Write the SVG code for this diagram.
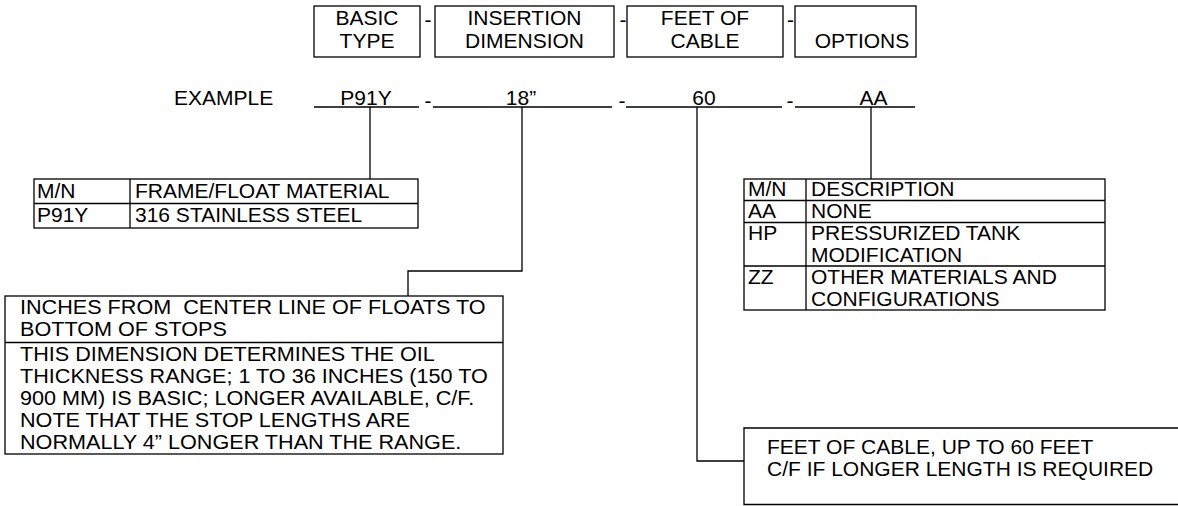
<svg xmlns="http://www.w3.org/2000/svg" width="1178" height="506" viewBox="0 0 1178 506">
<style>
text{font-family:"Liberation Sans",Arial,sans-serif;font-size:21px;fill:#000}
.m{text-anchor:middle}
.b{fill:none;stroke:#000;stroke-width:1.3}
.l{stroke:#000;stroke-width:1.3;fill:none}
</style>
<rect width="1178" height="506" fill="#fff"/>
<g id="header-basic-type">
<rect class="b" x="314" y="6" width="106" height="51"/>
<text class="m" x="367" y="25">BASIC</text>
<text class="m" x="367" y="48">TYPE</text>
</g>
<text class="m" x="428" y="27">-</text>
<g id="header-insertion">
<rect class="b" x="435" y="6" width="179" height="51"/>
<text class="m" x="524.5" y="25">INSERTION</text>
<text class="m" x="524.5" y="48">DIMENSION</text>
</g>
<text class="m" x="623" y="27">-</text>
<g id="header-feet">
<rect class="b" x="627" y="6" width="156" height="51"/>
<text class="m" x="705" y="25">FEET OF</text>
<text class="m" x="705" y="48">CABLE</text>
</g>
<text class="m" x="790.5" y="27">-</text>
<g id="header-options">
<rect class="b" x="795" y="6" width="121" height="51"/>
<text class="m" x="862" y="48">OPTIONS</text>
</g>
<g id="example-row">
<text x="174" y="104.5">EXAMPLE</text>
<text class="m" x="366" y="104.5">P91Y</text>
<text class="m" x="428" y="108">-</text>
<text class="m" x="521" y="104.5">18”</text>
<text class="m" x="622" y="108">-</text>
<text class="m" x="704" y="104.5">60</text>
<text class="m" x="790" y="108">-</text>
<text class="m" x="873.5" y="104.5">AA</text>
<path class="l" d="M314 107H419M433 107H612M626 107H782M795 107H915"/>
</g>
<g id="connectors">
<path class="l" d="M370 107V179"/>
<path class="l" d="M522 107V271H408V296"/>
<path class="l" d="M697 107V461H744"/>
<path class="l" d="M871 107V179"/>
</g>
<g id="material-table">
<rect class="b" x="34" y="179" width="384" height="49"/>
<path class="l" d="M34 203.5H418M130 179V228"/>
<text x="37" y="197.5">M/N</text>
<text x="135" y="197.5">FRAME/FLOAT MATERIAL</text>
<text x="37" y="221.5">P91Y</text>
<text x="135" y="221.5">316 STAINLESS STEEL</text>
</g>
<g id="options-table">
<rect class="b" x="744" y="179" width="361" height="131"/>
<path class="l" d="M744 200.5H1105M744 222.5H1105M744 266H1105M806 179V310"/>
<text x="748" y="195.5">M/N</text>
<text x="811" y="195.5">DESCRIPTION</text>
<text x="748" y="217.5">AA</text>
<text x="811" y="217.5">NONE</text>
<text x="748" y="239.5">HP</text>
<text x="811" y="239.5">PRESSURIZED TANK</text>
<text x="811" y="261.5">MODIFICATION</text>
<text x="748" y="284">ZZ</text>
<text x="811" y="284">OTHER MATERIALS AND</text>
<text x="811" y="306">CONFIGURATIONS</text>
</g>
<g id="insertion-note">
<rect class="b" x="5" y="296" width="498" height="158"/>
<path class="l" d="M5 342.5H503"/>
<g transform="translate(20 0) scale(1.029 1)">
<text x="0" y="314" xml:space="preserve">INCHES FROM  CENTER LINE OF FLOATS TO</text>
<text x="0" y="336">BOTTOM OF STOPS</text>
<text x="0" y="361">THIS DIMENSION DETERMINES THE OIL</text>
<text x="0" y="383">THICKNESS RANGE; 1 TO 36 INCHES (150 TO</text>
<text x="0" y="405">900 MM) IS BASIC; LONGER AVAILABLE, C/F.</text>
<text x="0" y="427">NOTE THAT THE STOP LENGTHS ARE</text>
<text x="0" y="449">NORMALLY 4” LONGER THAN THE RANGE.</text>
</g>
</g>
<g id="cable-note">
<path class="l" d="M1178 428H744V504.5H1178"/>
<text x="767" y="453.5">FEET OF CABLE, UP TO 60 FEET</text>
<text x="767" y="475.5">C/F IF LONGER LENGTH IS REQUIRED</text>
</g>
</svg>
